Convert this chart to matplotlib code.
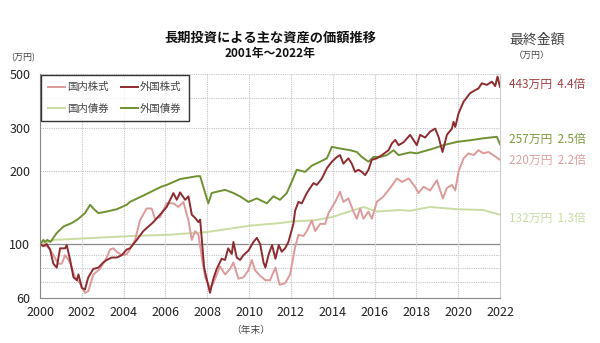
import matplotlib
matplotlib.use("Agg")
from matplotlib import pyplot as plt
from matplotlib.ticker import NullFormatter, NullLocator

plt.rcParams['font.family'] = ['Noto Sans CJK JP', 'DejaVu Sans']

# 外国株式 (年, 価額 万円)
t_fs = [2000.0, 2000.16, 2000.32, 2000.48, 2000.64, 2000.8, 2000.96, 2001.2, 2001.28, 2001.44,
        2001.6, 2001.76, 2001.84, 2002.0, 2002.15, 2002.31, 2002.55, 2002.79, 2003.03, 2003.19,
        2003.43, 2003.67, 2003.91, 2004.15, 2004.3, 2004.63, 2004.94, 2005.42, 2005.74, 2006.06,
        2006.38, 2006.54, 2006.7, 2006.94, 2007.1, 2007.26, 2007.42, 2007.58, 2007.66, 2007.85,
        2007.97, 2008.13, 2008.29, 2008.45, 2008.69, 2008.85, 2009.0, 2009.17, 2009.25, 2009.41,
        2009.57, 2009.73, 2009.97, 2010.21, 2010.37, 2010.53, 2010.69, 2010.78, 2010.94, 2011.1,
        2011.26, 2011.42, 2011.56, 2011.72, 2011.88, 2012.12, 2012.2, 2012.36, 2012.52, 2012.76,
        2012.92, 2013.08, 2013.24, 2013.48, 2013.72, 2013.96, 2014.2, 2014.35, 2014.51, 2014.75,
        2014.91, 2015.07, 2015.23, 2015.39, 2015.55, 2015.71, 2015.87, 2016.11, 2016.35, 2016.67,
        2016.83, 2016.99, 2017.15, 2017.39, 2017.7, 2017.86, 2018.02, 2018.18, 2018.42, 2018.66,
        2018.9, 2019.06, 2019.25, 2019.46, 2019.7, 2019.78, 2019.86, 2020.02, 2020.26, 2020.57,
        2020.81, 2020.97, 2021.13, 2021.37, 2021.61, 2021.77, 2021.88, 2022.0]
v_fs = [100, 98, 100, 95, 83, 80, 96, 96, 99, 86,
        73, 71, 75, 66, 65, 73, 79, 80, 84, 86,
        88, 88, 90, 95, 96, 104, 113, 123, 132, 142,
        162, 152, 163, 152, 157, 132, 128, 123, 126, 80,
        72, 63, 72, 79, 87, 86, 96, 91, 102, 88,
        86, 90, 94, 102, 106, 100, 84, 80, 91, 99,
        87, 99, 93, 96, 102, 121, 137, 149, 147, 162,
        170, 178, 175, 186, 205, 218, 228, 232, 214, 225,
        214, 198, 202, 198, 192, 202, 222, 225, 232, 243,
        259, 268, 255, 262, 281, 268, 255, 281, 274, 290,
        298, 276, 239, 281, 298, 318, 303, 345, 385, 417,
        429, 436, 458, 451, 465, 446, 488, 443]

# 国内株式
t_js = [2000.0, 2000.32, 2000.48, 2000.64, 2000.88, 2001.04, 2001.2, 2001.44, 2001.67, 2001.91,
        2002.15, 2002.31, 2002.55, 2002.87, 2003.19, 2003.35, 2003.51, 2003.67, 2003.91, 2004.15,
        2004.3, 2004.55, 2004.78, 2005.1, 2005.34, 2005.5, 2005.74, 2006.06, 2006.38, 2006.62,
        2006.86, 2007.1, 2007.26, 2007.42, 2007.58, 2007.74, 2007.9, 2008.13, 2008.29, 2008.61,
        2008.85, 2009.09, 2009.25, 2009.49, 2009.73, 2009.97, 2010.13, 2010.29, 2010.53, 2010.78,
        2011.0, 2011.26, 2011.46, 2011.72, 2011.96, 2012.2, 2012.36, 2012.6, 2012.76, 2013.0,
        2013.16, 2013.4, 2013.64, 2013.8, 2014.12, 2014.35, 2014.51, 2014.75, 2014.99, 2015.15,
        2015.31, 2015.47, 2015.71, 2015.87, 2016.11, 2016.43, 2016.75, 2017.07, 2017.31, 2017.63,
        2017.94, 2018.1, 2018.34, 2018.66, 2018.98, 2019.14, 2019.27, 2019.46, 2019.7, 2019.86,
        2020.02, 2020.26, 2020.5, 2020.74, 2020.97, 2021.2, 2021.45, 2021.68, 2022.0]
v_js = [100, 98, 95, 90, 83, 83, 90, 84, 73, 69,
        63, 64, 75, 79, 88, 95, 96, 93, 90, 91,
        95, 104, 125, 140, 140, 127, 129, 147, 147, 142,
        149, 125, 104, 113, 109, 88, 73, 66, 69, 81,
        75, 79, 84, 72, 73, 78, 86, 78, 74, 71,
        71, 80, 68, 69, 75, 97, 109, 108, 113, 125,
        113, 121, 121, 134, 149, 164, 149, 154, 136, 127,
        140, 127, 136, 127, 149, 157, 170, 186, 180, 186,
        172, 162, 172, 166, 183, 166, 154, 170, 175, 166,
        199, 225, 236, 232, 243, 236, 239, 232, 222]

# 外国債券
t_fb = [2000.0, 2000.16, 2000.24, 2000.35, 2000.5, 2000.8, 2001.12, 2001.52, 2001.84, 2002.15,
        2002.4, 2002.55, 2002.79, 2003.19, 2003.67, 2004.15, 2004.3, 2004.86, 2005.8, 2006.06,
        2006.7, 2007.5, 2007.66, 2007.9, 2008.05, 2008.21, 2008.45, 2008.85, 2009.25, 2009.57,
        2009.97, 2010.37, 2010.85, 2011.16, 2011.48, 2011.8, 2012.04, 2012.28, 2012.68, 2013.0,
        2013.4, 2013.72, 2013.96, 2014.35, 2014.83, 2015.15, 2015.39, 2015.71, 2015.95, 2016.27,
        2016.59, 2016.91, 2017.15, 2017.7, 2018.02, 2018.82, 2019.3, 2019.94, 2020.57, 2021.2,
        2021.85, 2022.0]
v_fb = [100, 104, 102, 104, 102, 111, 118, 122, 127, 134,
        145, 140, 134, 136, 139, 145, 149, 157, 172, 175,
        185, 190, 190, 162, 147, 162, 164, 167, 162, 157,
        149, 154, 147, 157, 152, 162, 180, 202, 198, 210,
        218, 225, 251, 247, 243, 239, 228, 218, 228, 228,
        232, 243, 232, 238, 236, 247, 255, 263, 267, 272,
        276, 257]

# 国内債券
t_jb = [2000.0, 2000.7, 2002.6, 2004.5, 2006.06, 2007.97, 2010.05, 2011.5, 2012.1, 2013.08,
        2013.96, 2015.47, 2016.11, 2017.2, 2017.7, 2018.66, 2019.94, 2021.2, 2022.0]
v_jb = [100, 104, 106, 108, 109, 112, 119, 122, 124, 125,
        129, 142, 136, 138, 137, 142, 139, 138, 132]

names = ["国内株式", "国内債券", "外国株式", "外国債券"]
colors = ["#dc9a9a", "#c9dca2", "#8e2b30", "#6f9133"]
label_colors = ["#dca0a0", "#c9dca6", "#a04044", "#7a9a3a"]
finals = ["220万円  2.2倍", "132万円  1.3倍", "443万円  4.4倍", "257万円  2.5倍"]
final_y = [160, 218, 84, 139]

yticks = [60, 100, 200, 300, 500]
ygrid = [60, 70, 80, 90, 200, 300, 400, 500]
xticks = list(range(2000, 2023, 2))

W, H = 600, 343
fig = plt.figure(figsize=(6, 3.43), dpi=100)
ax = fig.add_axes([40 / W, 1 - 298 / H, 460 / W, 224 / H])
ax.set_yscale("log")
ax.set_ylim(60, 500)
ax.set_xlim(2000, 2022)

# グリッド
for g in ygrid:
    ax.axhline(g, color="#c4c4c4", lw=0.8, ls=(0, (1, 1)), zorder=0)
ax.axhline(100, color="#8a8a8a", lw=0.9, zorder=0)
for x in xticks[1:-1]:
    ax.axvline(x, color="#c4c4c4", lw=0.8, ls=(0, (1, 1)), zorder=0)

ax.plot(t_jb, v_jb, color=colors[1], lw=1.4, label=names[1])
ax.plot(t_fb, v_fb, color=colors[3], lw=1.4, label=names[3])
ax.plot(t_js, v_js, color=colors[0], lw=1.4, label=names[0])
ax.plot(t_fs, v_fs, color=colors[2], lw=1.4, label=names[2])

ax.yaxis.set_minor_locator(NullLocator())
ax.yaxis.set_minor_formatter(NullFormatter())
ax.set_yticks(yticks)
ax.set_yticklabels([str(v) for v in yticks])
ax.set_xticks(xticks)
ax.tick_params(length=0, labelsize=9, colors="#222222", pad=6)
ax.tick_params(axis="y", pad=7)

ax.spines["top"].set_visible(False)
ax.spines["left"].set_color("#888888")
ax.spines["bottom"].set_color("#888888")
ax.spines["right"].set_color("#cccccc")

handles, labels = ax.get_legend_handles_labels()
order = [2, 0, 3, 1]
leg = ax.legend([handles[i] for i in order], [labels[i] for i in order],
                loc="upper left", ncol=2, fontsize=7.5, frameon=True, fancybox=False,
                handlelength=1.6, handletextpad=0.2, columnspacing=1.2, labelspacing=1.1,
                borderaxespad=0.1, borderpad=0.7)
leg.get_frame().set_edgecolor("black")
leg.get_frame().set_linewidth(1.0)
for txt in leg.get_texts():
    txt.set_color("#444444")

def fx(px):
    return px / W

def fy(py):
    return 1 - py / H

fig.text(fx(270), fy(38), "長期投資による主な資産の価額推移", ha="center", va="center",
         fontsize=9.5, fontweight="bold", color="#111111")
fig.text(fx(270), fy(53), "2001年～2022年", ha="center", va="center",
         fontsize=8.5, fontweight="bold", color="#111111")
fig.text(fx(23), fy(58), "(万円)", ha="center", va="center", fontsize=6.5, color="#444444")
fig.text(fx(537), fy(40), "最終金額", ha="center", va="center", fontsize=10, color="#444444")
fig.text(fx(532), fy(55), "（万円）", ha="center", va="center", fontsize=6.5, color="#444444")
fig.text(fx(251), fy(330), "（年末）", ha="center", va="center", fontsize=7, color="#444444")

for lab, c, yy in zip(finals, label_colors, final_y):
    fig.text(fx(509), fy(yy), lab, ha="left", va="center", fontsize=8.5, color=c)

fig.savefig("out.png", dpi=100, facecolor="white")
